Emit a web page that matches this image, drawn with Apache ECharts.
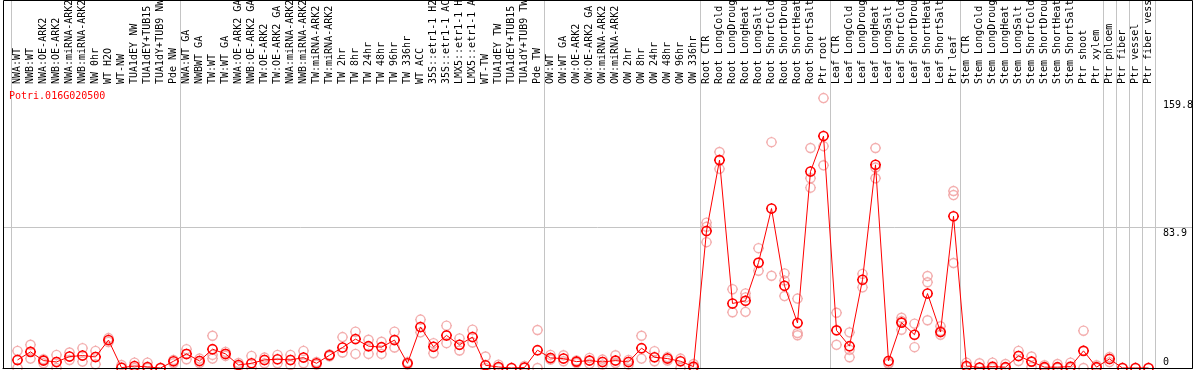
<!DOCTYPE html>
<html>
<head>
<meta charset="utf-8">
<script src="https://cdn.jsdelivr.net/npm/echarts@6/dist/echarts.min.js"></script>
<style>
html, body { margin: 0; padding: 0; background: #fff; }
#main { width: 1194px; height: 370px; }
</style>
</head>
<body>
<div id="main"></div>
<script>
// sample names, left to right
var categories = [
    'NWA:WT', 'NWB:WT', 'NWA:OE-ARK2', 'NWB:OE-ARK2', 'NWA:miRNA-ARK2', 'NWB:miRNA-ARK2', 'NW 0hr', 'WT H2O', 'WT-NW',
    'TUA1dEY NW', 'TUA1dEY+TUB15', 'TUA1dY+TUB9 NW', 'Pde NW',
    'NWA:WT GA', 'NWBWT GA', 'TW:WT', 'TW:WT GA', 'NWA:OE-ARK2 GA', 'NWB:OE-ARK2 GA', 'TW:OE-ARK2', 'TW:OE-ARK2 GA',
    'NWA:miRNA-ARK2', 'NWB:miRNA-ARK2', 'TW:miRNA-ARK2', 'TW:miRNA-ARK2', 'TW 2hr', 'TW 8hr', 'TW 24hr', 'TW 48hr',
    'TW 96hr', 'TW 336hr', 'WT ACC', '35S::etr1-1 H2O', '35S::etr1-1 ACC', 'LMX5::etr1-1 H2O', 'LMX5::etr1-1 ACC',
    'WT-TW', 'TUA1dEY TW', 'TUA1dEY+TUB15', 'TUA1dY+TUB9 TW', 'Pde TW',
    'OW:WT', 'OW:WT GA', 'OW:OE-ARK2', 'OW:OE-ARK2 GA', 'OW:miRNA-ARK2', 'OW:miRNA-ARK2', 'OW 2hr', 'OW 8hr',
    'OW 24hr', 'OW 48hr', 'OW 96hr', 'OW 336hr',
    'Root CTR', 'Root LongCold', 'Root LongDrought', 'Root LongHeat', 'Root LongSalt', 'Root ShortCold',
    'Root ShortDrought', 'Root ShortHeat', 'Root ShortSalt', 'Ptr root',
    'Leaf CTR', 'Leaf LongCold', 'Leaf LongDrought', 'Leaf LongHeat', 'Leaf LongSalt', 'Leaf ShortCold',
    'Leaf ShortDrought', 'Leaf ShortHeat', 'Leaf ShortSalt', 'Ptr leaf',
    'Stem CTR', 'Stem LongCold', 'Stem LongDrought', 'Stem LongHeat', 'Stem LongSalt', 'Stem ShortCold',
    'Stem ShortDrought', 'Stem ShortHeat', 'Stem ShortSalt', 'Ptr shoot', 'Ptr xylem',
    'Ptr phloem', 'Ptr fiber', 'Ptr vessel', 'Ptr fiber vessel'
];
// first sample of each group (where the grey separators go)
var groupStarts = [0, 13, 41, 53, 63, 73, 84, 85, 86, 87];

// mean expression
var means = [
    4.8, 9.6, 4.4, 3.6, 6.8, 7.4, 6.6, 16.6, 0.2, 1.2, 0.6, 0, 4.0,
    8.4, 4.2, 11.2, 8.4, 1.8, 2.8, 4.8, 5.2, 4.8, 6.2, 2.8, 7.6, 12.2, 17.2, 13.0, 12.4, 16.6, 2.8,
    24.4, 12.6, 19.4, 13.8, 18.4, 1.6, 0.6, 0, 0.3, 10.6,
    6.0, 5.6, 3.8, 4.4, 3.6, 4.4, 3.6, 11.8, 6.4, 5.6, 4.0, 0.8,
    81.5, 123.7, 38.4, 40.0, 62.7, 94.9, 48.9, 26.8, 116.9, 138.0,
    22.4, 13.0, 52.5, 120.9, 4.2, 27.0, 19.8, 44.3, 21.4, 90.3,
    1.2, 0.3, 0.8, 0.5, 7.2, 3.8, 0.5, 0.5, 0.8, 10.2, 0.5,
    5.4, 0, 0, 0
];
// single replicates
var rep1 = [
    10.2, 13.8, 5.2, 7.8, 9.2, 11.8, 10.2, 17.8, 1.8, 3.2, 3.2, 0, 4.8,
    11.2, 5.6, 19.2, 9.6, 3.0, 7.2, 6.2, 7.8, 7.8, 10.2, 3.6, 8.0, 18.4, 21.6, 16.8, 15.6, 21.6, 3.5,
    28.8, 14.8, 25.2, 17.6, 22.8, 6.8, 2.0, 0, 1.2, 22.6,
    7.8, 7.6, 4.5, 6.0, 5.0, 7.6, 4.8, 19.2, 10.0, 6.5, 5.6, 2.4,
    86.5, 128.5, 46.9, 44.4, 71.3, 134.4, 56.3, 41.3, 130.9, 160.6,
    32.9, 21.2, 56.0, 130.9, 3.0, 29.9, 26.4, 54.7, 24.8, 105.3,
    3.2, 2.8, 3.2, 2.4, 10.2, 6.8, 1.6, 2.4, 3.2, 22.2, 1.6,
    6.5, 0, 0, 0
];
var rep2 = [
    0, 5.6, 2.8, 0, 4.8, 3.8, 2.2, 15.5, null, 0, 0, null, 2.8,
    5.2, 3.0, 7.8, 7.2, 0.8, 0, 2.8, 2.8, 1.8, 2.8, 2.0, 7.0, 9.2, 8.4, 8.4, 8.4, 12.2, 2.0,
    21.2, 8.8, 14.8, 10.4, 15.2, 0, 0, null, 0, 0,
    5.0, 4.0, 3.0, 2.5, 2.0, 3.0, 2.0, 5.6, 4.0, 4.5, 0, 0,
    74.9, 118.5, 33.2, 33.4, 57.9, 54.9, 42.8, 20.8, 112.9, 132.0,
    13.8, 10.8, 48.0, 119.3, 2.5, 22.8, 12.4, 51.0, 19.8, 102.9,
    0.5, 0, 0, 0, 4.2, 0.5, 0, 0, 0, 0, 0,
    3.5, null, null, null
];
var rep3 = [
    null, null, null, null, null, null, null, null, null, null, null, null, null,
    null, null, 5.6, null, null, null, null, null, null, null, null, null, null, null, null, null, null, null,
    null, null, null, null, null, null, null, null, null, null,
    null, null, null, null, null, null, null, null, null, null, null, null,
    84.0, null, null, 42.0, null, null, 52.0, 19.5, 107.3, 120.6,
    null, 6.4, null, 112.9, null, 28.0, null, 28.4, 22.0, 62.5,
    null, null, null, null, null, null, null, null, null, null, null,
    null, null, null, null
];
// right-hand axis labels
var yTicks = [0, 83.9, 159.8];
var yLine = [83.9];
var yMax = 167.8;

var mono = 'DejaVu Sans Mono';
// circle with four short ticks
var ringPath = 'path://M10,3C13.87,3 17,6.13 17,10C17,13.87 13.87,17 10,17C6.13,17 3,13.87 3,10C3,6.13 6.13,3 10,3Z' +
    'M10,1.5L10,3M10,17L10,18.5M1.5,10L3,10M17,10L18.5,10';

function repSeries(arr) {
    return {
        type: 'scatter',
        xAxisIndex: 0,
        yAxisIndex: 0,
        data: arr,
        symbol: ringPath,
        symbolSize: 11,
        itemStyle: { color: 'rgba(0,0,0,0)', borderColor: '#f09a9a', borderWidth: 1.4 },
        silent: true,
        clip: false,
        z: 2
    };
}

var myChart = echarts.init(document.getElementById('main'));
var option = {
    animation: false,
    backgroundColor: '#fff',
    title: {
        text: 'Potri.016G020500',
        left: 9,
        top: 91,
        padding: 0,
        textStyle: { color: '#f00', fontFamily: mono, fontSize: 10, fontWeight: 'normal' }
    },
    graphic: [{
        type: 'rect',
        shape: { x: 3.5, y: 0.5, width: 1189, height: 368 },
        style: { fill: 'none', stroke: '#000', lineWidth: 1 },
        silent: true,
        z: 10
    }],
    grid: [
        { left: 11, right: 39, top: 86, bottom: 2, outerBoundsMode: 'none', containLabel: false },
        { left: 11, right: 39, top: 0, bottom: 1, outerBoundsMode: 'none', containLabel: false },
        { left: 3, right: 2, top: 86, bottom: 2, outerBoundsMode: 'none', containLabel: false }
    ],
    xAxis: [{
        gridIndex: 0,
        type: 'category',
        position: 'top',
        data: categories,
        boundaryGap: true,
        axisLine: { show: false },
        axisTick: { show: false },
        splitLine: { show: false },
        axisLabel: { interval: 0, rotate: 90, margin: 2, color: '#000', fontFamily: mono, fontSize: 10 }
    }, {
        gridIndex: 1,
        type: 'category',
        data: categories,
        boundaryGap: true,
        axisLine: { show: false },
        axisTick: { show: false },
        axisLabel: { show: false },
        splitLine: {
            show: true,
            interval: function (idx) { return groupStarts.indexOf(idx) >= 0; },
            lineStyle: { color: '#c4c4c4', width: 1 }
        }
    }, {
        gridIndex: 2,
        type: 'value',
        position: 'top',
        min: 0,
        max: 1,
        axisLine: { show: true, lineStyle: { color: '#000', width: 1 } },
        axisTick: { show: false },
        axisLabel: { show: false },
        splitLine: { show: false }
    }],
    yAxis: [{
        gridIndex: 0,
        type: 'value',
        position: 'right',
        min: 0,
        max: yMax,
        axisLine: { show: false },
        axisTick: { show: false },
        splitLine: { show: false },
        axisLabel: {
            customValues: yTicks,
            margin: 8,
            color: '#000',
            fontFamily: mono,
            fontSize: 10,
            formatter: function (v) { return v === 0 ? '{z|0}' : '{n|' + v + '}'; },
            rich: {
                z: { fontFamily: mono, fontSize: 10, color: '#000', padding: [0, 0, 12, 0] },
                n: { fontFamily: mono, fontSize: 10, color: '#000', padding: [12, 0, 0, 0] }
            }
        }
    }, {
        gridIndex: 1,
        type: 'value',
        show: false
    }, {
        gridIndex: 2,
        type: 'value',
        min: 0,
        max: yMax,
        axisLine: { show: false },
        axisTick: { show: false, customValues: yLine },
        axisLabel: { show: false, customValues: yLine },
        splitLine: { show: true, lineStyle: { color: '#c4c4c4', width: 1 } }
    }],
    series: [
        repSeries(rep1),
        repSeries(rep2),
        repSeries(rep3),
        {
            type: 'line',
            xAxisIndex: 0,
            yAxisIndex: 0,
            data: means,
            symbol: ringPath,
            symbolSize: 11,
            showSymbol: true,
            showAllSymbol: true,
            clip: false,
            silent: true,
            lineStyle: { color: '#f00', width: 1 },
            itemStyle: { color: 'rgba(0,0,0,0)', borderColor: '#f00', borderWidth: 1.6 },
            z: 3
        }
    ]
};
myChart.setOption(option);
</script>
</body>
</html>
